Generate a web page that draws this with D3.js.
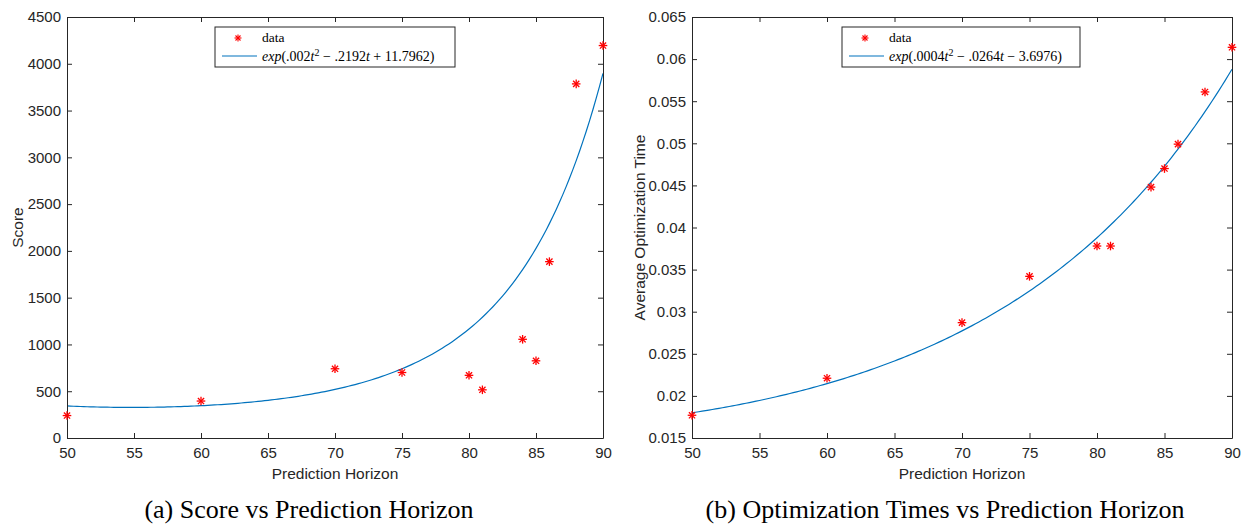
<!DOCTYPE html>
<html>
<head>
<meta charset="utf-8">
<script src="https://cdn.jsdelivr.net/npm/d3@7"></script>
<style>
  body { margin: 0; background: #fff; }
  svg { display: block; }
</style>
</head>
<body>
<script>
// data
const horizon = [50, 60, 70, 75, 80, 81, 84, 85, 86, 88, 90];
const scores = [240, 395, 740, 700, 670, 515, 1055, 825, 1885, 3785, 4195];
const optTimes = [0.0177, 0.0221, 0.0287, 0.0342, 0.0378, 0.0378, 0.0448, 0.0470, 0.0499, 0.0561, 0.0614];

// fitted exp(a t^2 + b t + c) coefficients from the legends
const scoreFit = [0.002, -0.2192, 11.7962];
const timeFit = [0.0004, -0.0264, -3.6976];

const xTicks = [50, 55, 60, 65, 70, 75, 80, 85, 90];
const scoreTicks = [0, 500, 1000, 1500, 2000, 2500, 3000, 3500, 4000, 4500];
const timeTicks = [0.015, 0.02, 0.025, 0.03, 0.035, 0.04, 0.045, 0.05, 0.055, 0.06, 0.065];

const width = 1244, height = 525;
const axisColor = "#262626";
const lineColor = "#0072BD";
const sans = "Liberation Sans, Arial, sans-serif";
const serif = "Liberation Serif, Times New Roman, serif";

const svg = d3.select("body").append("svg")
    .attr("width", width)
    .attr("height", height);

function drawPanel(cfg) {
    const x = d3.scaleLinear().domain([50, 90]).range([cfg.left, cfg.right]);
    const y = d3.scaleLinear().domain(cfg.yDomain).range([cfg.bottom, cfg.top]);
    const g = svg.append("g");

    // fit curve
    const ts = d3.range(50, 90.001, 0.25);
    const fit = t => Math.exp(cfg.fit[0] * t * t + cfg.fit[1] * t + cfg.fit[2]);
    g.append("path")
        .datum(ts)
        .attr("fill", "none")
        .attr("stroke", lineColor)
        .attr("stroke-width", 1.2)
        .attr("d", d3.line().x(t => x(t)).y(t => y(fit(t))));

    // axes, MATLAB-style box with inward ticks
    const tl = 5;
    g.append("g")
        .attr("transform", `translate(0,${cfg.bottom})`)
        .call(d3.axisBottom(x).tickValues(xTicks).tickSizeInner(-tl).tickSizeOuter(0).tickPadding(9));
    g.append("g")
        .attr("transform", `translate(0,${cfg.top})`)
        .call(d3.axisTop(x).tickValues(xTicks).tickSizeInner(-tl).tickSizeOuter(0).tickFormat(""));
    g.append("g")
        .attr("transform", `translate(${cfg.left},0)`)
        .call(d3.axisLeft(y).tickValues(cfg.yTicks).tickSizeInner(-tl).tickSizeOuter(0).tickPadding(6).tickFormat(cfg.fmt));
    g.append("g")
        .attr("transform", `translate(${cfg.right},0)`)
        .call(d3.axisRight(y).tickValues(cfg.yTicks).tickSizeInner(-tl).tickSizeOuter(0).tickFormat(""));

    g.selectAll(".domain, .tick line").attr("stroke", axisColor);
    g.selectAll(".tick text")
        .attr("fill", axisColor)
        .style("font-family", sans)
        .style("font-size", "15px");

    // data markers: MATLAB '*'
    const r = 4.3;
    const star = g.append("g")
        .selectAll("g")
        .data(cfg.values)
        .join("g")
        .attr("transform", (d, i) => `translate(${x(horizon[i])},${y(d)})`);
    [[-r, 0, r, 0], [0, -r, 0, r], [-r * 0.72, -r * 0.72, r * 0.72, r * 0.72], [-r * 0.72, r * 0.72, r * 0.72, -r * 0.72]]
        .forEach(s => {
            star.append("line")
                .attr("x1", s[0]).attr("y1", s[1]).attr("x2", s[2]).attr("y2", s[3])
                .attr("stroke", "#ff0000").attr("stroke-width", 1.3);
        });

    // axis labels
    svg.append("text")
        .attr("x", (cfg.left + cfg.right) / 2)
        .attr("y", 479)
        .attr("text-anchor", "middle")
        .attr("fill", axisColor)
        .style("font-family", sans)
        .style("font-size", "15.5px")
        .text("Prediction Horizon");
    svg.append("text")
        .attr("transform", `translate(${cfg.yLabelX},${(cfg.top + cfg.bottom) / 2}) rotate(-90)`)
        .attr("text-anchor", "middle")
        .attr("fill", axisColor)
        .style("font-family", sans)
        .style("font-size", "15.5px")
        .text(cfg.yLabel);

    // legend
    const lg = svg.append("g").attr("transform", `translate(${cfg.legX},27)`);
    lg.append("rect")
        .attr("width", cfg.legW).attr("height", 40)
        .attr("fill", "#fff").attr("stroke", axisColor).attr("stroke-width", 1);
    const mk = lg.append("g").attr("transform", "translate(23,11)");
    [[-3.5, 0, 3.5, 0], [0, -3.5, 0, 3.5], [-2.5, -2.5, 2.5, 2.5], [-2.5, 2.5, 2.5, -2.5]].forEach(s => {
        mk.append("line")
            .attr("x1", s[0]).attr("y1", s[1]).attr("x2", s[2]).attr("y2", s[3])
            .attr("stroke", "#ff0000").attr("stroke-width", 1.1);
    });
    lg.append("line")
        .attr("x1", 7).attr("x2", 42).attr("y1", 29).attr("y2", 29)
        .attr("stroke", lineColor).attr("stroke-width", 1.2);
    lg.append("text")
        .attr("x", 47).attr("y", 15)
        .style("font-family", serif).style("font-size", "13.5px")
        .text("data");
    const eq = lg.append("text")
        .attr("x", 47).attr("y", 34)
        .style("font-family", serif).style("font-size", "14px");
    const f = cfg.fit;
    const c2 = String(f[0]).replace(/^0/, "");
    const c1 = String(Math.abs(f[1])).replace(/^0/, "");
    const c0 = String(Math.abs(f[2]));
    eq.append("tspan").style("font-style", "italic").text("exp");
    eq.append("tspan").text("(" + c2);
    eq.append("tspan").style("font-style", "italic").text("t");
    eq.append("tspan").attr("dy", -5).style("font-size", "10px").text("2");
    eq.append("tspan").attr("dy", 5).text(" \u2212 " + c1);
    eq.append("tspan").style("font-style", "italic").text("t");
    eq.append("tspan").text((f[2] < 0 ? " \u2212 " : " + ") + c0 + ")");

    // caption
    svg.append("text")
        .attr("x", cfg.capX)
        .attr("y", 518)
        .attr("text-anchor", "middle")
        .style("font-family", serif)
        .style("font-size", "26px")
        .text(cfg.caption);
}

drawPanel({
    left: 67, right: 603, top: 17, bottom: 438,
    yDomain: [0, 4500], yTicks: scoreTicks, fmt: d3.format("d"),
    values: scores, fit: scoreFit,
    yLabel: "Score", yLabelX: 23,
    legX: 215, legW: 240,
    caption: "(a) Score vs Prediction Horizon", capX: 309
});

drawPanel({
    left: 692, right: 1232, top: 17, bottom: 438,
    yDomain: [0.015, 0.065], yTicks: timeTicks, fmt: d => String(+d.toFixed(3)),
    values: optTimes, fit: timeFit,
    yLabel: "Average Optimization Time", yLabelX: 645,
    legX: 842, legW: 238,
    caption: "(b) Optimization Times vs Prediction Horizon", capX: 945
});
</script>
</body>
</html>
